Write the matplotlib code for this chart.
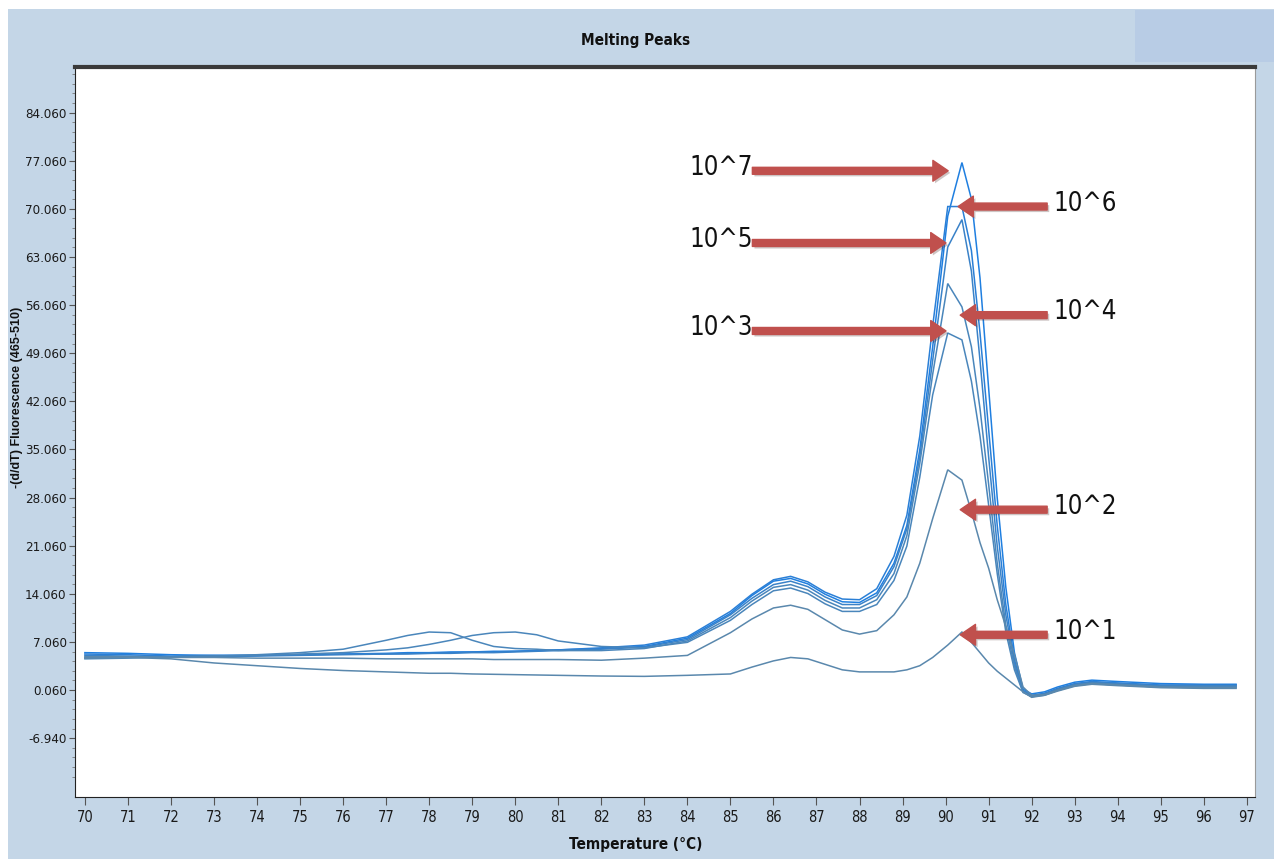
import matplotlib
matplotlib.use('Agg')
import matplotlib.pyplot as plt
from matplotlib.patches import Rectangle
from matplotlib.ticker import FixedLocator
import matplotlib.patheffects as pe

# ---------------- data ----------------
temperature = [70, 71, 72, 73, 74, 75, 76, 77, 77.5, 78, 78.5, 79, 79.5, 80, 80.5, 81,
               82, 83, 84, 85, 85.5, 86, 86.4, 86.8, 87.2, 87.6, 88.0, 88.4, 88.8, 89.1,
               89.4, 89.7, 90.05, 90.38, 90.6, 90.8, 91.0, 91.2, 91.4, 91.6, 91.8, 92.0,
               92.3, 92.6, 93.0, 93.4, 94.0, 95.0, 96.0, 96.75]

dil_1e7 = [5.5, 5.4, 5.2, 5.1, 5.1, 5.2, 5.3, 5.4, 5.5, 5.5, 5.6, 5.6, 5.7, 5.7, 5.8, 5.9,
           6.1, 6.4, 7.6, 11.2, 13.8, 15.9, 16.3, 15.5, 14.0, 12.9, 12.8, 14.2, 18.5, 24.0,
           35.0, 50.0, 69.0, 76.8, 71.5, 60.0, 44.0, 28.0, 15.0, 5.5, 0.2, -0.5,
           -0.2, 0.5, 1.2, 1.5, 1.3, 1.0, 0.9, 0.9]
dil_1e6 = [5.3, 5.2, 5.0, 5.1, 5.1, 5.2, 5.3, 5.3, 5.4, 5.4, 5.5, 5.6, 5.6, 5.7, 5.8, 5.9,
           6.2, 6.6, 7.8, 11.5, 14.0, 16.1, 16.6, 15.8, 14.3, 13.3, 13.2, 14.8, 19.5, 25.5,
           37.0, 53.0, 70.4, 70.4, 64.0, 52.0, 38.0, 24.0, 12.5, 4.5, 0.0, -0.7,
           -0.4, 0.3, 1.0, 1.3, 1.1, 0.8, 0.8, 0.8]
dil_1e5 = [5.1, 5.0, 4.9, 4.9, 5.0, 5.1, 5.2, 5.3, 5.3, 5.4, 5.4, 5.5, 5.5, 5.6, 5.7, 5.8,
           6.0, 6.3, 7.4, 11.0, 13.4, 15.4, 15.9, 15.1, 13.6, 12.5, 12.5, 13.8, 18.0, 23.5,
           34.0, 48.0, 64.5, 68.5, 61.0, 48.0, 34.0, 21.0, 11.0, 4.0, -0.1, -0.8,
           -0.5, 0.2, 0.9, 1.2, 1.0, 0.7, 0.7, 0.7]
dil_1e4 = [4.8, 4.9, 4.9, 5.0, 5.2, 5.5, 6.0, 7.3, 8.0, 8.5, 8.4, 7.3, 6.4, 6.1, 6.0, 5.8,
           5.8, 6.1, 7.2, 10.6, 13.0, 15.0, 15.4, 14.6, 13.1, 12.0, 12.0, 13.2, 17.0, 22.5,
           33.0, 46.0, 59.2, 55.8, 50.0, 41.0, 30.0, 18.5, 9.5, 3.5, -0.2, -0.9,
           -0.6, 0.1, 0.8, 1.1, 0.9, 0.6, 0.6, 0.6]
dil_1e3 = [4.6, 4.7, 4.9, 5.0, 5.1, 5.3, 5.5, 5.9, 6.2, 6.7, 7.3, 8.0, 8.4, 8.5, 8.1, 7.2,
           6.4, 6.2, 7.0, 10.2, 12.5, 14.5, 14.9, 14.1, 12.6, 11.5, 11.5, 12.5, 16.0, 21.0,
           31.0, 43.0, 52.0, 51.0, 45.0, 37.0, 27.0, 17.0, 8.5, 3.0, -0.3, -0.9,
           -0.7, 0.0, 0.7, 1.0, 0.8, 0.5, 0.5, 0.5]
dil_1e2 = [4.9, 4.9, 4.8, 4.8, 4.7, 4.7, 4.7, 4.6, 4.6, 4.6, 4.6, 4.6, 4.5, 4.5, 4.5, 4.5,
           4.4, 4.7, 5.1, 8.4, 10.4, 12.0, 12.4, 11.8, 10.3, 8.8, 8.2, 8.7, 11.0, 13.6,
           18.5, 25.0, 32.1, 30.6, 26.0, 21.5, 17.8, 13.2, 9.3, 5.2, 0.5, -0.7,
           -0.6, 0.0, 0.7, 1.0, 0.8, 0.5, 0.4, 0.4]
dil_1e1 = [4.7, 4.8, 4.6, 4.0, 3.6, 3.2, 2.9, 2.7, 2.6, 2.5, 2.5, 2.4, 2.35, 2.3, 2.25, 2.2,
           2.1, 2.05, 2.2, 2.4, 3.4, 4.3, 4.8, 4.6, 3.8, 3.0, 2.7, 2.7, 2.7, 3.0,
           3.6, 4.8, 6.6, 8.5, 7.0, 5.5, 4.0, 2.8, 1.8, 0.8, -0.2, -1.0,
           -0.7, -0.1, 0.6, 0.9, 0.7, 0.4, 0.3, 0.3]

series = [dil_1e7, dil_1e6, dil_1e5, dil_1e4, dil_1e3, dil_1e2, dil_1e1]
series_colors = ['#1f7fe0', '#2a7fd6', '#3a82c8', '#4a86bb', '#4a86bb', '#5a88ad', '#5a88ad']

x_ticks = list(range(70, 98))
y_ticks = [-6.94, 0.06, 7.06, 14.06, 21.06, 28.06, 35.06, 42.06, 49.06, 56.06,
           63.06, 70.06, 77.06, 84.06]

# annotations: label, arrow tip (T, value), arrow tail T, label T
ann_labels = ['10^7', '10^6', '10^5', '10^4', '10^3', '10^2', '10^1']
ann_tip_T = [90.06, 90.29, 90.01, 90.34, 90.01, 90.34, 90.34]
ann_tip_v = [75.6, 70.4, 65.1, 54.6, 52.3, 26.3, 8.1]
ann_tail_T = [85.51, 92.36, 85.51, 92.36, 85.51, 92.36, 92.36]
ann_text_T = [84.78, 93.24, 84.78, 93.24, 84.78, 93.24, 93.24]

# ---------------- figure ----------------
W, H = 1274, 859
fig = plt.figure(figsize=(W / 100, H / 100), dpi=100, facecolor='white')
fig.patches.append(Rectangle((8 / W, 0), 1, 1 - 9 / H, transform=fig.transFigure,
                             facecolor='#c4d6e7', edgecolor='none', zorder=-10))
fig.patches.append(Rectangle((1135 / W, 1 - 62 / H), 139 / W, 52 / H, transform=fig.transFigure,
                             facecolor='#b8cce5', edgecolor='none', zorder=-9))

ax = fig.add_axes([75 / W, 1 - 797 / H, (1255 - 75) / W, (797 - 67) / H])
ax.set_facecolor('white')

for vals, col in zip(series, series_colors):
    ax.plot(temperature, vals, color=col, lw=1.1, solid_joinstyle='miter')

ax.set_xlim(69.77, 97.19)
ax.set_ylim(-15.5, 90.7)

cond = dict(family='DejaVu Sans', stretch='condensed')
ax.xaxis.set_major_locator(FixedLocator(x_ticks))
ax.yaxis.set_major_locator(FixedLocator(y_ticks))
ax.yaxis.set_minor_locator(FixedLocator([t + k * 1.4 for t in [-13.94] + y_ticks for k in range(1, 5)]))
ax.set_xticklabels([str(t) for t in x_ticks], fontsize=10.5, color='#1a1a1a', **cond)
ax.set_yticklabels(['%.3f' % t for t in y_ticks], fontsize=9.5, color='#1a1a1a', **cond)
ax.tick_params(axis='x', which='major', length=6, width=0.8, color='#555555', pad=3)
ax.tick_params(axis='y', which='major', length=4, width=0.8, color='#555555', pad=2)
ax.tick_params(axis='y', which='minor', length=2, width=0.6, color='#777777')

ax.spines['top'].set_linewidth(3)
ax.spines['top'].set_color('#3a3a3a')
ax.spines['left'].set_color('#222222')
ax.spines['bottom'].set_color('#222222')
ax.spines['right'].set_color('#9a9a9a')

fig.text(636 / W, 1 - 41 / H, 'Melting Peaks', ha='center', va='center',
         fontsize=11, fontweight='bold', color='#111111', **cond)
fig.text(636 / W, 1 - 845 / H, 'Temperature (\u00b0C)', ha='center', va='center',
         fontsize=11, fontweight='bold', color='#111111', **cond)
fig.text(17 / W, 1 - 397 / H, '-(d/dT) Fluorescence (465-510)', rotation=90,
         ha='center', va='center', fontsize=9, fontweight='bold',
         family=['Liberation Sans', 'DejaVu Sans'], color='#111111')

arrow_color = '#c0504d'
for lab, tx, tv, tail, txt in zip(ann_labels, ann_tip_T, ann_tip_v, ann_tail_T, ann_text_T):
    ax.annotate('', xy=(tx, tv), xytext=(tail, tv),
                arrowprops=dict(arrowstyle='simple,head_length=11,head_width=15,tail_width=5',
                                mutation_scale=1, color=arrow_color, shrinkA=0, shrinkB=0,
                                path_effects=[pe.SimplePatchShadow(offset=(1.5, -1.5), alpha=0.25),
                                              pe.Normal()]),
                zorder=5)
    ax.text(txt, tv + 0.4, lab, ha='center', va='center', fontsize=18.5,
            color='#111111', zorder=6, **cond)

fig.savefig('out.png', dpi=100, facecolor=fig.get_facecolor())
